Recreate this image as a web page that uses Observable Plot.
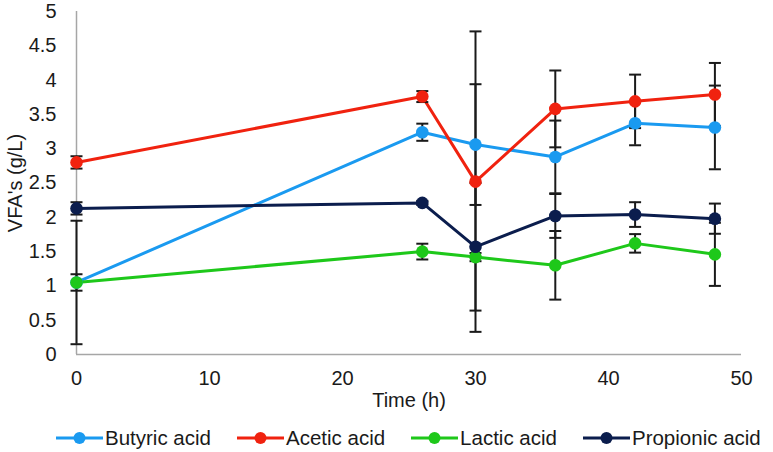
<!DOCTYPE html>
<html>
<head>
<meta charset="utf-8">
<script src="https://cdn.jsdelivr.net/npm/d3@7"></script>
<script src="https://cdn.jsdelivr.net/npm/@observablehq/plot@0.6"></script>
<style>
  html, body { margin: 0; padding: 0; background: #fff; }
  body { width: 773px; height: 452px; position: relative; overflow: hidden;
         font-family: "Liberation Sans", Arial, sans-serif; color: #1a1a1a; }
  #chart svg text { font-size: 20px; }
  #legend { position: absolute; left: 56px; top: 427px; display: flex; align-items: center;
            font-size: 20.5px; line-height: 22px; white-space: nowrap; }
  .item { display: flex; align-items: center; margin-right: 26px; }
  .item svg { margin-right: 2px; }
</style>
</head>
<body>
<div id="chart"></div>
<div id="legend"></div>
<script>
// Sampling times (h)
const times = [0, 26, 30, 36, 42, 48];

// Series names and colours
const seriesNames = ["Butyric acid", "Acetic acid", "Lactic acid", "Propionic acid"];
const seriesColors = ["#1a9af0", "#f0220f", "#1ec81a", "#0b1d4d"];

// Mean concentrations (g/L) and standard deviations
const butyric = [1.05, 3.24, 3.06, 2.88, 3.37, 3.31];
const butyricSd = [0.90, 0.125, 0.88, 0.53, 0.32, 0.61];
const acetic = [2.80, 3.76, 2.52, 3.58, 3.69, 3.79];
const aceticSd = [0.09, 0.08, 2.19, 0.56, 0.39, 0.46];
const lactic = [1.05, 1.50, 1.42, 1.30, 1.62, 1.46];
const lacticSd = [0.12, 0.115, 0.06, 0.50, 0.135, 0.46];
const propionic = [2.13, 2.21, 1.57, 2.02, 2.04, 1.98];
const propionicSd = [0.09, 0.03, 0.93, 0.32, 0.18, 0.22];

// Axis ticks
const xTicks = [0, 10, 20, 30, 40, 50];
const yTicks = [0, 0.5, 1, 1.5, 2, 2.5, 3, 3.5, 4, 4.5, 5];

const seriesValues = [butyric, acetic, lactic, propionic];
const seriesSd = [butyricSd, aceticSd, lacticSd, propionicSd];

const rows = seriesNames.flatMap((name, i) =>
  times.map((t, j) => ({ series: name, time: t, value: seriesValues[i][j], sd: seriesSd[i][j] }))
);

// Horizontal cap for the error bars, drawn as a dot symbol
const capSymbol = {
  draw(context, size) {
    const r = Math.sqrt(size / Math.PI);
    context.moveTo(-r, 0);
    context.lineTo(r, 0);
  }
};

const chart = Plot.plot({
  width: 773,
  height: 420,
  marginLeft: 76,
  marginRight: 32,
  marginTop: 11,
  marginBottom: 66,
  style: { fontFamily: "'Liberation Sans', Arial, sans-serif", fontSize: "20px", color: "#1a1a1a", background: "#fff", overflow: "visible" },
  x: { domain: [0, 50], ticks: xTicks, tickSize: 0, tickPadding: 16, tickFormat: d => String(d),
       label: "Time (h)", labelAnchor: "center", labelArrow: "none", labelOffset: 52 },
  y: { domain: [0, 5], ticks: yTicks, tickSize: 0, tickPadding: 20, tickFormat: d => String(d),
       label: "VFA's (g/L)", labelAnchor: "center", labelArrow: "none", labelOffset: 69 },
  color: { domain: seriesNames, range: seriesColors },
  marks: [
    Plot.ruleX([0], { stroke: "#a6a6a6", strokeWidth: 1.5 }),
    Plot.ruleY([0], { stroke: "#a6a6a6", strokeWidth: 1.5 }),
    Plot.line(rows, { x: "time", y: "value", z: "series", stroke: "series", strokeWidth: 3 }),
    Plot.ruleX(rows, { x: "time", y1: d => d.value - d.sd, y2: d => d.value + d.sd, stroke: "#1a1a1a", strokeWidth: 2 }),
    Plot.dot(rows, { x: "time", y: d => d.value + d.sd, symbol: capSymbol, r: 6, fill: "none", stroke: "#1a1a1a", strokeWidth: 2 }),
    Plot.dot(rows, { x: "time", y: d => d.value - d.sd, symbol: capSymbol, r: 6, fill: "none", stroke: "#1a1a1a", strokeWidth: 2 }),
    Plot.dot(rows, { x: "time", y: "value", fill: "series", r: 6.3 })
  ]
});
document.getElementById("chart").appendChild(chart);

// Legend: line-with-marker swatches
const legend = document.getElementById("legend");
seriesNames.forEach((name, i) => {
  const item = document.createElement("div");
  item.className = "item";
  item.innerHTML =
    `<svg width="47" height="16" viewBox="0 0 47 16">
       <line x1="0" y1="8" x2="47" y2="8" stroke="${seriesColors[i]}" stroke-width="3"/>
       <circle cx="23.5" cy="8" r="6" fill="${seriesColors[i]}"/>
     </svg><span>${name}</span>`;
  legend.appendChild(item);
});
</script>
</body>
</html>
